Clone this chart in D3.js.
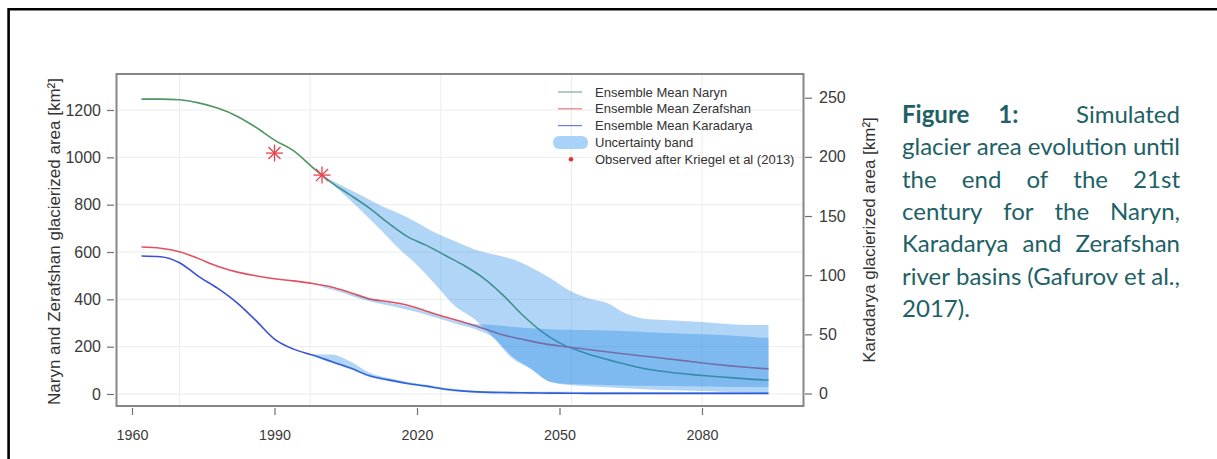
<!DOCTYPE html>
<html><head><meta charset="utf-8">
<script src="https://cdn.jsdelivr.net/npm/d3@7/dist/d3.min.js"></script>
<style>
html,body{margin:0;padding:0;background:#fff;overflow:hidden}
svg{display:block}
</style></head><body>
<svg id="c" width="1217" height="459"></svg>
<script>
// ---------------- data ----------------
const years = [1962,1966,1970,1974,1978,1982,1986,1990,1994,1998,2002,2006,2010,2014,2018,2022,2026,2030,2034,2038,2042,2046,2050,2054,2058,2062,2066,2070,2074,2078,2082,2086,2090,2094];
const naryn = [1246,1246,1243,1230,1208,1175,1128,1073,1028,958,893,840,785,722,665,628,585,542,490,420,338,268,216,183,157,135,115,100,90,82,75,69,63,59];
const zerafshan = [621,616,601,572,540,516,500,487,478,467,452,428,402,390,375,350,325,302,277,250,232,215,203,193,183,173,164,155,146,136,127,119,112,106];
const karadarya = [116.2,115.6,110.5,99,89,77,62,46,37.5,32.5,27,21.5,15,11.5,8.5,6.2,3.6,2.0,1.2,0.8,0.6,0.4,0.3,0.2,0.1,0.1,0.1,0.1,0.1,0.1,0.1,0.1,0.1,0.1];

const bandYears = [2000,2004,2008,2012,2016,2020,2024,2028,2032,2036,2040,2044,2048,2052,2056,2060,2064,2068,2072,2076,2080,2084,2088,2092,2094];
const narynUpper = [925,882,842,800,765,725,680,645,612,590,570,535,490,438,405,385,340,318,313,308,304,298,293,292,292];
const narynLower = [925,855,780,700,618,545,460,372,318,240,152,105,52,38,33,28,24,20,17,15,13,10,7,5,4];
const zerafUpper = [457,437,412,393,379,359,334,310,296,292,284,278,274,271,270,268,265,262,258,255,252,249,244,239,237];
const zerafLower = [452,430,402,382,366,346,322,298,276,240,160,108,52,42,40,38,36,35,34,33,32,31,30,30,30];

const karaBandYears = [1998,2002,2006,2010,2014,2018,2022,2026,2030,2034,2038,2042,2046,2050,2054,2058,2062,2066,2070,2074,2078,2082,2086,2090,2094];
const karaUpper = [33,33,27,17.5,13,9.8,7.3,4.6,3,2,1.6,1.5,1.4,1.4,1.3,1.3,1.3,1.2,1.2,1.2,1.2,1.2,1.2,1.2,1.2];
const karaLower = [32,26,20.5,14,10.5,7.6,5.2,2.6,1.2,0.5,0,0,0,0,0,0,0,0,0,0,0,0,0,0,0];

const obsYears = [1990, 2000];
const obsValues = [1018, 925];

const xTicks = [1960, 1990, 2020, 2050, 2080];
const yLeftTicks = [0, 200, 400, 600, 800, 1000, 1200];
const yRightTicks = [0, 50, 100, 150, 200, 250];
const xGrid = [1970, 1997.5, 2025, 2052.5, 2080];

const legendLabels = ["Ensemble Mean Naryn","Ensemble Mean Zerafshan","Ensemble Mean Karadarya","Uncertainty band","Observed after Kriegel et al (2013)"];
const leftTitle = "Naryn and Zerafshan glacierized area [km²]";
const rightTitle = "Karadarya glacierized area [km²]";
const captionLines = ["Figure 1: Simulated","glacier area evolution until","the end of the 21st","century for the Naryn,","Karadarya and Zerafshan","river basins (Gafurov et al.,","2017)."];

// ---------------- style ----------------
const C_NARYN = "#4f9663", C_ZERAF = "#e0505e", C_KARA = "#3a4fd6";
const BAND = "rgba(32,134,230,0.35)";
const TEAL = "#1d6166";
const FONT = "'Liberation Sans', Arial, sans-serif";

const svg = d3.select("#c");
const x = d3.scaleLinear().domain([1960, 2080]).range([132, 702]);
const yL = d3.scaleLinear().domain([0, 1200]).range([394, 110]);
const yR = d3.scaleLinear().domain([0, 250]).range([393.5, 97.7]);
const P = {l:116.5, r:803.5, t:74, b:406};

// grid
const g = svg.append("g");
g.selectAll(".gx").data(xGrid).enter().append("line")
  .attr("x1", d=>x(d)).attr("x2", d=>x(d)).attr("y1", P.t).attr("y2", P.b)
  .attr("stroke", "#ececec").attr("stroke-width", 1);
g.selectAll(".gy").data(yLeftTicks).enter().append("line")
  .attr("x1", P.l).attr("x2", P.r).attr("y1", d=>yL(d)).attr("y2", d=>yL(d))
  .attr("stroke", "#ececec").attr("stroke-width", 1);

// lines
const mk = (arr) => years.map((yr,i)=>({yr, v:arr[i]}));
const lineL = d3.line().x(d=>x(d.yr)).y(d=>yL(d.v)).curve(d3.curveMonotoneX);
const lineR = d3.line().x(d=>x(d.yr)).y(d=>yR(d.v)).curve(d3.curveMonotoneX);
svg.append("path").attr("d", lineL(mk(naryn))).attr("fill","none").attr("stroke",C_NARYN).attr("stroke-width",1.6);
svg.append("path").attr("d", lineL(mk(zerafshan))).attr("fill","none").attr("stroke",C_ZERAF).attr("stroke-width",1.6);
svg.append("path").attr("d", lineR(mk(karadarya))).attr("fill","none").attr("stroke",C_KARA).attr("stroke-width",1.6);

// bands
const areaL = d3.area().x(d=>x(d.yr)).y0(d=>yL(d.lo)).y1(d=>yL(d.hi)).curve(d3.curveMonotoneX);
const areaR = d3.area().x(d=>x(d.yr)).y0(d=>yR(d.lo)).y1(d=>yR(d.hi)).curve(d3.curveMonotoneX);
svg.append("path").attr("d", areaL(bandYears.map((yr,i)=>({yr, lo:narynLower[i], hi:narynUpper[i]})))).attr("fill",BAND);
svg.append("path").attr("d", areaL(bandYears.map((yr,i)=>({yr, lo:zerafLower[i], hi:zerafUpper[i]})))).attr("fill",BAND);
svg.append("path").attr("d", areaR(karaBandYears.map((yr,i)=>({yr, lo:karaLower[i], hi:karaUpper[i]})))).attr("fill",BAND);

// observed asterisks
const ast = svg.selectAll(".ast").data(obsYears.map((yr,i)=>({yr, v:obsValues[i]}))).enter().append("g")
  .attr("transform", d=>`translate(${x(d.yr)},${yL(d.v)})`);
[0,45,90,135].forEach(a=>{
  const r=8.5, rad=a*Math.PI/180;
  ast.append("line").attr("x1",-r*Math.cos(rad)).attr("y1",-r*Math.sin(rad))
    .attr("x2",r*Math.cos(rad)).attr("y2",r*Math.sin(rad))
    .attr("stroke","#e8404c").attr("stroke-width",1.3);
});

// frame
svg.append("rect").attr("x",P.l).attr("y",P.t).attr("width",P.r-P.l).attr("height",P.b-P.t)
  .attr("fill","none").attr("stroke","#858585").attr("stroke-width",2);

// axes
function styleAxis(sel, fs){
  sel.select(".domain").remove();
  sel.selectAll(".tick line").attr("stroke","#707070").attr("stroke-width",1.2);
  sel.selectAll(".tick text").attr("fill","#3a3a3a").style("font-family",FONT).style("font-size",fs+"px");
}
svg.append("g").attr("transform","translate(114,0)")
  .call(d3.axisLeft(yL).tickValues(yLeftTicks).tickSize(7).tickPadding(6).tickFormat(d3.format("d")))
  .call(s=>styleAxis(s,16));
svg.append("g").attr("transform","translate(805,0)")
  .call(d3.axisRight(yR).tickValues(yRightTicks).tickSize(7).tickPadding(7).tickFormat(d3.format("d")))
  .call(s=>styleAxis(s,16));
svg.append("g").attr("transform","translate(0,408)")
  .call(d3.axisBottom(x).tickValues(xTicks).tickSize(7).tickPadding(15).tickFormat(d3.format("d")))
  .call(s=>styleAxis(s,14.3));

// axis titles
svg.append("text").attr("transform","translate(60,241.5) rotate(-90)").attr("text-anchor","middle")
  .style("font-family",FONT).style("font-size","17px").attr("fill","#333").text(leftTitle);
svg.append("text").attr("transform","translate(875,240) rotate(-90)").attr("text-anchor","middle")
  .style("font-family",FONT).style("font-size","17px").attr("fill","#333").text(rightTitle);

// legend
const lg = svg.append("g");
const legY = i => 92 + i*16.8;
const legColors = [C_NARYN, C_ZERAF, C_KARA];
legColors.forEach((c,i)=>{
  lg.append("line").attr("x1",558).attr("x2",582).attr("y1",legY(i)).attr("y2",legY(i))
    .attr("stroke",c).attr("stroke-width",1.2).attr("opacity",0.75);
});
lg.append("rect").attr("x",553).attr("y",legY(3)-6.5).attr("width",35).attr("height",13).attr("rx",6)
  .attr("fill","#a9d2f8");
lg.append("circle").attr("cx",571).attr("cy",legY(4)).attr("r",2.3).attr("fill","#e0303c");
lg.selectAll(".lt").data(legendLabels).enter().append("text")
  .attr("x",595).attr("y",(d,i)=>legY(i)).attr("dy","0.35em")
  .style("font-family",FONT).style("font-size","13px").attr("fill","#333").text(d=>d);

// outer border (top & left visible)
svg.append("path").attr("d","M8.6,459 V9.3 H1217").attr("fill","none").attr("stroke","#000").attr("stroke-width",2.6);

// caption (justified block)
const CAP_L = 902, CAP_R = 1180, CAP_W = CAP_R - CAP_L;
const CFONT = "Lato, 'Open Sans', sans-serif";
const meas = svg.append("text").style("font-family",CFONT);
function wlen(t, fs, bold){
  meas.style("font-size",fs+"px").style("font-weight",bold?"700":"400").text(t);
  return meas.node().getComputedTextLength();
}
let maxw = 0;
captionLines.slice(1,6).forEach(l=>{ maxw = Math.max(maxw, wlen(l,20,false)); });
const cfs = 20 * CAP_W / maxw;
const cap = svg.append("text").style("font-family",CFONT).style("font-size",cfs+"px").attr("fill",TEAL);
captionLines.forEach((line, li)=>{
  const words = line.split(" ");
  const bold = words.map((w,wi)=> li===0 && wi<2);
  const ws = words.map((w,wi)=>wlen(w,cfs,bold[wi]));
  const baseY = 123 + li*32.3;
  let gaps;
  if (li === captionLines.length-1) {
    const sp = wlen("a a",cfs,false) - 2*wlen("a",cfs,false);
    gaps = words.slice(1).map(()=>sp);
  } else {
    const free = CAP_W - d3.sum(ws);
    const weights = li===0 ? [1,2] : words.slice(1).map(()=>1);
    const tw = d3.sum(weights);
    gaps = weights.map(w=>free*w/tw);
  }
  let cx = CAP_L;
  words.forEach((w,wi)=>{
    cap.append("tspan").attr("x",cx).attr("y",baseY).style("font-weight",bold[wi]?"700":"400").text(w);
    cx += ws[wi] + (gaps[wi]||0);
  });
});
meas.remove();
</script>
</body></html>
